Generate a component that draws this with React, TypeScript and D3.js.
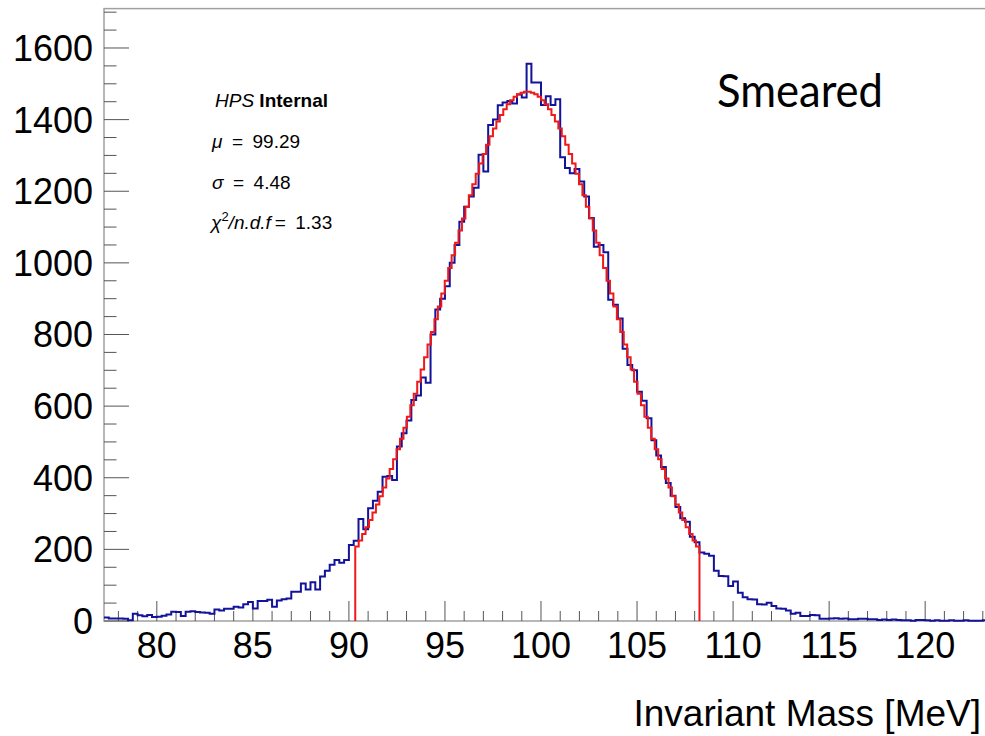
import React from 'react';
import * as d3 from 'd3';

// ---- data ----
const binStart = 77.25;
const binWidth = 0.25;
const counts: number[] = [
  10, 7, 7, 7, 6, 2, 20, 16, 13, 17,
  11, 12, 15, 18, 26, 25, 14, 26, 27, 25,
  24, 23, 20, 32, 29, 34, 34, 40, 38, 47,
  53, 35, 56, 56, 59, 40, 57, 61, 63, 82,
  82, 105, 88, 108, 88, 124, 140, 157, 170, 163,
  170, 212, 224, 285, 256, 315, 336, 361, 403, 405,
  394, 487, 524, 560, 617, 630, 680, 665, 800, 870,
  900, 935, 1000, 1050, 1115, 1157, 1185, 1210, 1302, 1255,
  1385, 1400, 1440, 1448, 1452, 1445, 1470, 1462, 1556, 1504,
  1504, 1441, 1465, 1441, 1457, 1295, 1265, 1250, 1262, 1227,
  1185, 1125, 1045, 1050, 1030, 897, 883, 845, 760, 715,
  700, 640, 615, 566, 505, 462, 430, 385, 350, 318,
  287, 277, 235, 220, 191, 188, 182, 140, 126, 125,
  98, 110, 79, 66, 61, 60, 47, 46, 51, 42,
  35, 34, 29, 20, 23, 14, 14, 17, 16, 6,
  6, 7, 8, 6, 7, 5, 5, 6, 6, 5,
  5, 3, 4, 3, 4, 3, 2, 2, 1, 3,
  3, 2, 1, 2, 1, 1, 2, 1, 1, 2,
  1, 1, 1, 2,
];

// Gaussian fit result shown on the chart
const fitAmplitude = 1478;
const fitMean = 99.29;
const fitSigma = 4.48;
const fitRange = [90.33, 108.25];
const fitSteps = 100;

const xDomain = [77.25, 123.25];
const yDomain = [0, 1710];
const xMajorTicks = [80, 85, 90, 95, 100, 105, 110, 115, 120];
const yMajorTicks = [0, 200, 400, 600, 800, 1000, 1200, 1400, 1600];
const xMinorStep = 1;
const yMinorStep = 50;

const xTitle = 'Invariant Mass [MeV]';
const sampleLabel = 'Smeared';
const meanText = '99.29';
const sigmaText = '4.48';
const chiText = '1.33';

// ---- layout ----
const W = 985;
const H = 736;
const left = 104;
const right = 987.6;
const top = 8.6;
const bottom = 621;
const FONT = '"Liberation Sans", Arial, Helvetica, sans-serif';
const EQ = '\u2002=\u2002';

export default function App() {
  const x = d3.scaleLinear().domain(xDomain).range([left, right]);
  const y = d3.scaleLinear().domain(yDomain).range([bottom, top]);

  const histPts: [number, number][] = counts.map((c, i) => [binStart + i * binWidth, c]);
  histPts.push([binStart + counts.length * binWidth, counts[counts.length - 1]]);
  const stepLine = d3
    .line<[number, number]>()
    .x((d) => x(d[0]))
    .y((d) => y(d[1]))
    .curve(d3.curveStepAfter);

  const gauss = (v: number) => fitAmplitude * Math.exp(-((v - fitMean) ** 2) / (2 * fitSigma * fitSigma));
  const dx = (fitRange[1] - fitRange[0]) / fitSteps;
  const fitPts: [number, number][] = [[fitRange[0], 0]];
  d3.range(fitSteps).forEach((i) => {
    const x0 = fitRange[0] + i * dx;
    fitPts.push([x0, gauss(x0 + dx / 2)]);
  });
  fitPts.push([fitRange[1], gauss(fitRange[1] - dx / 2)]);
  fitPts.push([fitRange[1], 0]);

  const xMinor = d3.range(Math.ceil(xDomain[0]), xDomain[1], xMinorStep).filter((v) => v % 5 !== 0);
  const yMinor = d3.range(0, yDomain[1], yMinorStep).filter((v) => v % 200 !== 0);

  return (
    <svg
      width={W}
      height={H}
      style={{ position: 'absolute', left: 0, top: 0, background: '#fff' }}
      fontFamily={FONT}
    >
      <rect x={0} y={0} width={W} height={H} fill="#fff" />
      {/* frame */}
      <rect x={left} y={top} width={right - left} height={bottom - top} fill="none" stroke="#a0a0a0" strokeWidth={1.5} />

      {/* y ticks */}
      {yMajorTicks.map((t) => (
        <g key={'ym' + t}>
          <line x1={left} x2={left + 25} y1={y(t)} y2={y(t)} stroke="#555" strokeWidth={1} />
          <text x={93} y={y(t) + 12.9} textAnchor="end" fontSize={36} fill="#000">
            {t}
          </text>
        </g>
      ))}
      {yMinor.map((t) => (
        <line key={'yn' + t} x1={left} x2={left + 12.5} y1={y(t)} y2={y(t)} stroke="#555" strokeWidth={1} />
      ))}

      {/* x ticks */}
      {xMajorTicks.map((t) => (
        <g key={'xm' + t}>
          <line x1={x(t)} x2={x(t)} y1={bottom} y2={bottom - 20} stroke="#555" strokeWidth={1} />
          <text x={x(t)} y={657.5} textAnchor="middle" fontSize={36} fill="#000">
            {t}
          </text>
        </g>
      ))}
      {xMinor.map((t) => (
        <line key={'xn' + t} x1={x(t)} x2={x(t)} y1={bottom} y2={bottom - 10} stroke="#555" strokeWidth={1} />
      ))}

      {/* histogram */}
      <path d={stepLine(histPts) || ''} fill="none" stroke="#12129a" strokeWidth={2} />
      {/* fit */}
      <path d={stepLine(fitPts) || ''} fill="none" stroke="#f01818" strokeWidth={2} />

      {/* annotations */}
      <text x={215} y={107} fontSize={19} fill="#000">
        <tspan fontStyle="italic">HPS</tspan>
        <tspan fontWeight="bold"> Internal</tspan>
      </text>
      <text x={212} y={148} fontSize={19} fill="#000">
        <tspan fontStyle="italic">μ</tspan>
        <tspan>{EQ + meanText}</tspan>
      </text>
      <text x={212} y={189} fontSize={19} fill="#000">
        <tspan fontStyle="italic">σ</tspan>
        <tspan>{EQ + sigmaText}</tspan>
      </text>
      <text x={211} y={229} fontSize={19} fill="#000">
        <tspan fontStyle="italic">χ</tspan>
        <tspan fontSize={13} dy={-8}>2</tspan>
        <tspan fontStyle="italic" dy={8}>/n.d.f</tspan>
        <tspan>{'\u2009=\u2002' + chiText}</tspan>
      </text>

      <text x={717} y={106.5} fontSize={46} fontFamily="Lato, 'Open Sans', sans-serif" textLength={166} lengthAdjust="spacingAndGlyphs" fill="#000">
        {sampleLabel}
      </text>

      <text x={981} y={726} textAnchor="end" fontSize={37} fill="#000">
        {xTitle}
      </text>
    </svg>
  );
}
